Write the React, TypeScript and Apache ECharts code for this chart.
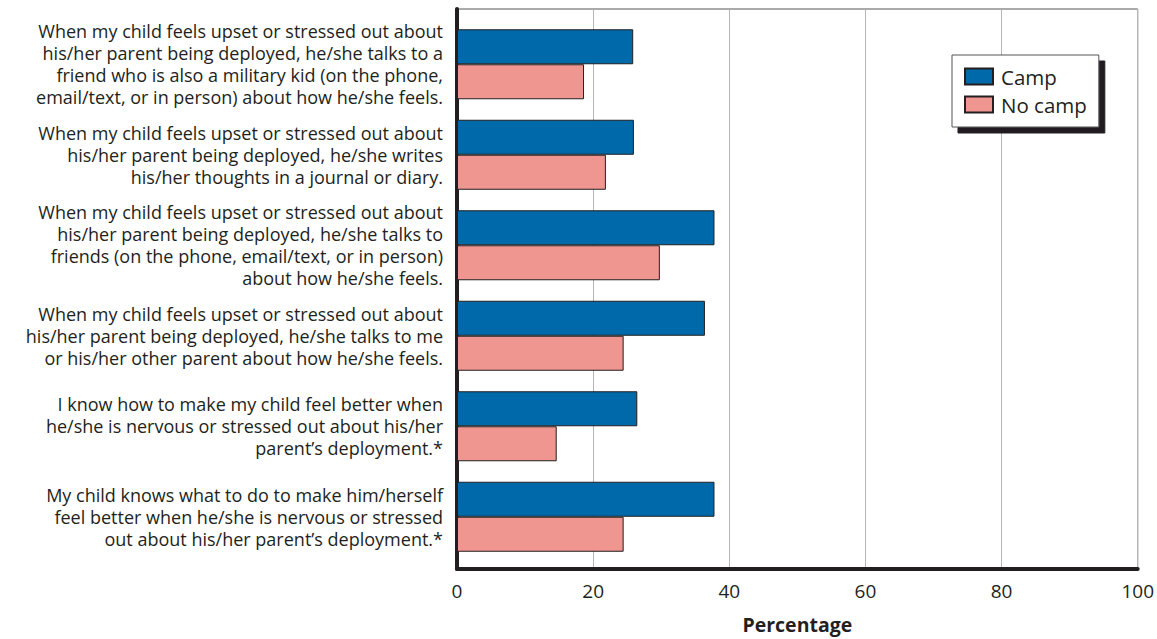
import React, { useEffect, useRef } from "react";
import * as echarts from "echarts";

const categories: string[] = [
  "When my child feels upset or stressed out about\nhis/her parent being deployed, he/she talks to a\nfriend who is also a military kid (on the phone,\nemail/text, or in person) about how he/she feels.",
  "When my child feels upset or stressed out about\nhis/her parent being deployed, he/she writes\nhis/her thoughts in a journal or diary.",
  "When my child feels upset or stressed out about\nhis/her parent being deployed, he/she talks to\nfriends (on the phone, email/text, or in person)\nabout how he/she feels.",
  "When my child feels upset or stressed out about\nhis/her parent being deployed, he/she talks to me\nor his/her other parent about how he/she feels.",
  "I know how to make my child feel better when\nhe/she is nervous or stressed out about his/her\nparent\u2019s deployment.*",
  "My child knows what to do to make him/herself\nfeel better when he/she is nervous or stressed\nout about his/her parent\u2019s deployment.*",
];

const campValues: number[] = [25.8, 25.9, 37.7, 36.3, 26.4, 37.7];
const noCampValues: number[] = [18.6, 21.8, 29.7, 24.4, 14.6, 24.4];

const seriesNames: string[] = ["Camp", "No camp"];
const xTicks = { min: 0, max: 100, interval: 20 };

const FONT = "'Open Sans', 'Noto Sans', sans-serif";
const TEXT = "#231f20";

export default function App() {
  const ref = useRef<HTMLDivElement>(null);
  useEffect(() => {
    if (!ref.current) return;
    const chart = echarts.init(ref.current, undefined, { renderer: "svg" });
    chart.setOption({
      animation: false,
      backgroundColor: "#ffffff",
      textStyle: { fontFamily: FONT },
      grid: [
        { left: 457, right: 17, top: 9, bottom: 67, show: true, borderColor: "#555555", borderWidth: 1, containLabel: false },
        { left: 457, right: 17, top: 19, bottom: 77, containLabel: false },
      ],
      legend: {
        data: seriesNames,
        orient: "vertical",
        left: 952,
        top: 55,
        padding: [11, 12, 12, 12],
        itemWidth: 28,
        itemHeight: 16,
        itemGap: 7,
        icon: "rect",
        backgroundColor: "#ffffff",
        borderColor: "#555555",
        borderWidth: 1,
        shadowColor: "#231f20",
        shadowBlur: 0,
        shadowOffsetX: 6,
        shadowOffsetY: 6,
        textStyle: { fontFamily: FONT, fontSize: 20.5, color: TEXT, lineHeight: 20, padding: [0, 0, 0, 3] },
      },
      xAxis: [
        {
          type: "value",
          gridIndex: 0,
          min: xTicks.min,
          max: xTicks.max,
          interval: xTicks.interval,
          axisLine: { show: true, onZero: false, lineStyle: { color: TEXT, width: 4 } },
          axisTick: { show: false },
          axisLabel: { fontFamily: FONT, fontSize: 19, color: TEXT, margin: 12 },
          splitLine: { show: true, lineStyle: { color: "#b5b5b5", width: 1 } },
          name: "Percentage",
          nameLocation: "middle",
          nameGap: 45,
          nameTextStyle: { fontFamily: FONT, fontSize: 19.5, fontWeight: "bold", color: TEXT },
        },
        {
          type: "value",
          gridIndex: 1,
          min: xTicks.min,
          max: xTicks.max,
          interval: xTicks.interval,
          show: false,
        },
      ],
      yAxis: [
        {
          type: "value",
          gridIndex: 0,
          min: 0,
          max: 1,
          axisLine: { show: true, onZero: false, lineStyle: { color: TEXT, width: 4 } },
          axisTick: { show: false },
          axisLabel: { show: false },
          splitLine: { show: false },
        },
        {
          type: "category",
          gridIndex: 1,
          inverse: true,
          data: categories,
          axisLine: { show: false },
          axisTick: { show: false },
          axisLabel: { fontFamily: FONT, fontSize: 18, color: TEXT, lineHeight: 22, margin: 14, align: "right" },
        },
      ],
      series: [
        {
          name: seriesNames[0],
          type: "bar",
          xAxisIndex: 1,
          yAxisIndex: 1,
          data: campValues,
          barWidth: 35,
          barGap: "0%",
          itemStyle: { color: "#0069a9", borderColor: TEXT, borderWidth: 1 },
        },
        {
          name: seriesNames[1],
          type: "bar",
          xAxisIndex: 1,
          yAxisIndex: 1,
          data: noCampValues,
          barWidth: 35,
          barGap: "0%",
          itemStyle: { color: "#ee968f", borderColor: TEXT, borderWidth: 1 },
        },
      ],
    });
    return () => chart.dispose();
  }, []);
  return <div ref={ref} style={{ position: "fixed", left: 0, top: 0, width: 1157, height: 639 }} />;
}
